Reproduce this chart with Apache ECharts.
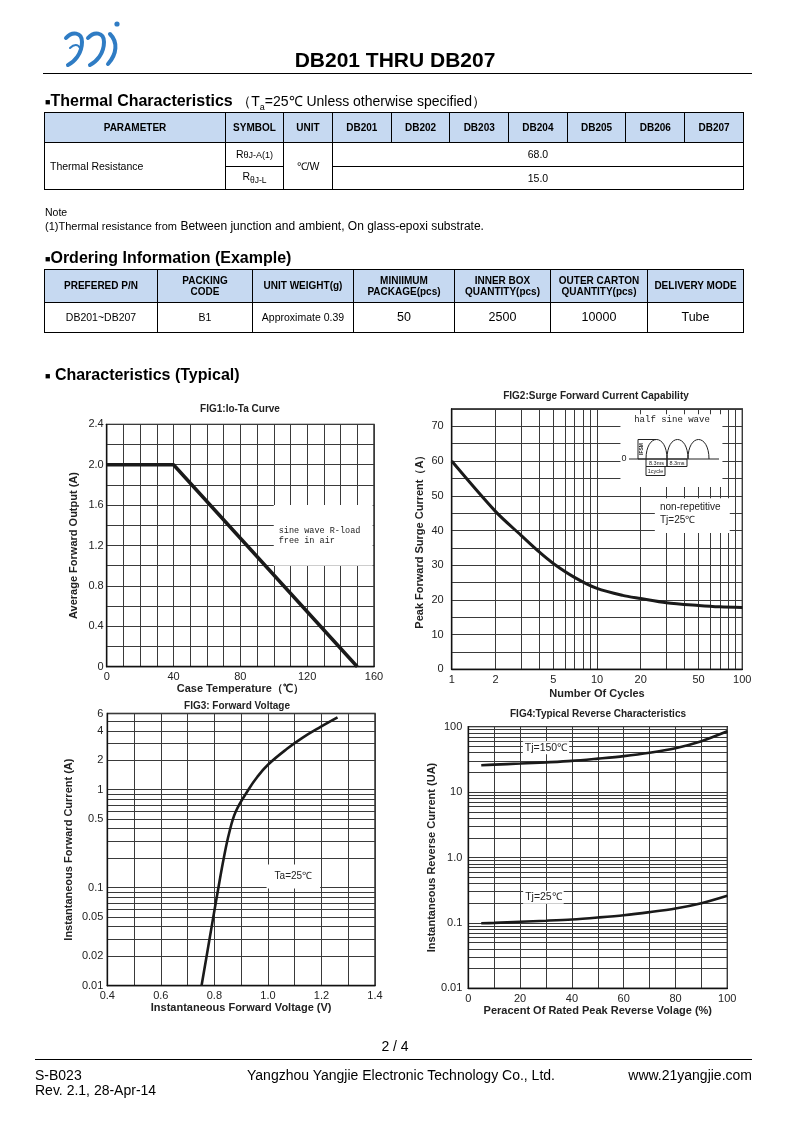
<!DOCTYPE html>
<html><head><meta charset="utf-8">
<script src="https://cdn.jsdelivr.net/npm/echarts@6/dist/echarts.min.js"></script>
<style>
html,body{margin:0;padding:0;background:#fff;}
#page{position:relative;width:794px;height:1122px;overflow:hidden;font-family:"Liberation Sans",Arial,sans-serif;color:#000;}
#chart{position:absolute;left:0;top:0;width:794px;height:1122px;}
.abs{position:absolute;white-space:nowrap;line-height:1;}
.nar{font-family:"Liberation Sans Narrow","Liberation Sans",Arial,sans-serif;}
table{position:absolute;border-collapse:collapse;table-layout:fixed;font-family:"Liberation Sans Narrow","Liberation Sans",Arial,sans-serif;}
td,th{border:1px solid #000;text-align:center;padding:0;font-size:10.5px;line-height:1.15;}
th{background:#c6d9f1;font-weight:bold;font-size:10px;}
.sq{font-size:9px;vertical-align:1px;}
.big{font-family:"Liberation Sans",Arial,sans-serif;font-size:12.5px;}
</style></head>
<body><div id="page">
<div id="chart"></div>

<svg class="abs" style="left:62px;top:18px" width="70" height="52" viewBox="0 0 70 52">
  <g fill="none" stroke="#2f7cc4" stroke-linecap="round">
    <path d="M4,20 C10,13 20,14 20,24 C20,36 12,44 6,47" stroke-width="4"/>
    <path d="M8,30 C12,26 16,26 18,30" stroke-width="2"/>
    <path d="M26,20 C32,13 42,14 42,24 C42,36 34,44 28,47" stroke-width="4"/>
    <path d="M48,16 C56,24 55,36 46,46" stroke-width="4"/>
  </g>
  <circle cx="55" cy="6" r="2.6" fill="#2f7cc4"/>
</svg>
<div class="abs" style="left:0;width:790px;text-align:center;top:49px;font-size:21px;font-weight:bold;">DB201 THRU DB207</div>
<div class="abs" style="left:43px;top:73px;width:709px;height:0;border-top:1.5px solid #000;"></div>

<div class="abs" style="left:45px;top:93px;font-size:16px;font-weight:bold;"><span class="sq">■</span>Thermal Characteristics <span style="font-weight:normal;font-size:14px;">（T<sub style="font-size:9px;">a</sub>=25℃ Unless otherwise specified）</span></div>

<table style="left:44px;top:112px;width:699px;">
<colgroup><col style="width:181px"><col style="width:58px"><col style="width:49px"><col style="width:58.7px"><col style="width:58.7px"><col style="width:58.7px"><col style="width:58.7px"><col style="width:58.7px"><col style="width:58.7px"><col style="width:58.8px"></colgroup>
<tr style="height:30px"><th>PARAMETER</th><th>SYMBOL</th><th>UNIT</th><th>DB201</th><th>DB202</th><th>DB203</th><th>DB204</th><th>DB205</th><th>DB206</th><th>DB207</th></tr>
<tr style="height:24px"><td rowspan="2" style="text-align:left;padding-left:5px;">Thermal Resistance</td><td>R<span style="font-size:9px">θJ-A(1)</span></td><td rowspan="2">℃/W</td><td colspan="7">68.0</td></tr>
<tr style="height:23px"><td>R<sub style="font-size:8.5px">θJ-L</sub></td><td colspan="7">15.0</td></tr>
</table>

<div class="abs nar" style="left:45px;top:207px;font-size:10.5px;">Note</div>
<div class="abs" style="left:45px;top:220px;font-size:12px;"><span class="nar" style="font-size:11px;">(1)Thermal resistance from</span> Between junction and ambient, On glass-epoxi substrate.</div>

<div class="abs" style="left:45px;top:250px;font-size:16px;font-weight:bold;"><span class="sq">■</span>Ordering Information (Example)</div>
<table style="left:44px;top:269px;width:699px;">
<colgroup><col style="width:113px"><col style="width:95px"><col style="width:101px"><col style="width:101px"><col style="width:96px"><col style="width:97px"><col style="width:96px"></colgroup>
<tr style="height:33px"><th>PREFERED P/N</th><th>PACKING<br>CODE</th><th>UNIT WEIGHT(g)</th><th>MINIIMUM<br>PACKAGE(pcs)</th><th>INNER BOX<br>QUANTITY(pcs)</th><th>OUTER CARTON<br>QUANTITY(pcs)</th><th>DELIVERY MODE</th></tr>
<tr style="height:30px"><td>DB201~DB207</td><td>B1</td><td>Approximate 0.39</td><td class="big">50</td><td class="big">2500</td><td class="big">10000</td><td class="big">Tube</td></tr>
</table>

<div class="abs" style="left:45px;top:367px;font-size:16px;font-weight:bold;"><span class="sq">■</span> Characteristics (Typical)</div>

<div class="abs" style="left:0;width:790px;text-align:center;top:1039px;font-size:14px;">2 / 4</div>
<div class="abs" style="left:35px;top:1059px;width:717px;height:0;border-top:1px solid #000;"></div>
<div class="abs" style="left:35px;top:1068px;font-size:14px;">S-B023</div>
<div class="abs" style="left:35px;top:1083px;font-size:14px;">Rev. 2.1, 28-Apr-14</div>
<div class="abs" style="left:201px;width:400px;text-align:center;top:1068px;font-size:14px;">Yangzhou Yangjie Electronic Technology Co., Ltd.</div>
<div class="abs" style="right:42px;top:1068px;font-size:14px;">www.21yangjie.com</div>
</div>

<script>
// FIG1: Io-Ta curve
const fig1Temp = [0, 40, 150];
const fig1Current = [2.0, 2.0, 0];
const fig1XLabels = [0, 40, 80, 120, 160];
const fig1YLabels = [0, 0.4, 0.8, 1.2, 1.6, 2.0, 2.4];

// FIG2: surge forward current
const fig2Cycles = [1, 2, 3, 4, 5, 7, 10, 15, 20, 30, 50, 70, 100];
const fig2Surge = [60, 45.5, 38.6, 33.8, 30.5, 26.5, 23.3, 21.3, 20.4, 19.2, 18.4, 18.0, 17.8];
const fig2XGrid = [1, 2, 3, 4, 5, 6, 7, 8, 9, 10, 20, 30, 40, 50, 60, 70, 80, 90, 100];
const fig2XLabels = [1, 2, 5, 10, 20, 50, 100];
const fig2YLabels = [0, 10, 20, 30, 40, 50, 60, 70];

// FIG3: forward voltage
const fig3Voltage = [0.752, 0.77, 0.79, 0.815, 0.835, 0.855, 0.88, 0.927, 0.96, 1.0, 1.07, 1.13, 1.195, 1.26];
const fig3Current = [0.01, 0.0193, 0.0403, 0.1, 0.2, 0.36, 0.6, 1.0, 1.35, 1.8, 2.6, 3.4, 4.35, 5.47];
const fig3XLabels = [0.4, 0.6, 0.8, 1.0, 1.2, 1.4];
const fig3YGrid = [0.01, 0.02, 0.03, 0.04, 0.05, 0.06, 0.07, 0.08, 0.09, 0.1, 0.2, 0.3, 0.4, 0.5, 0.6, 0.7, 0.8, 0.9, 1, 2, 3, 4, 5, 6];
const fig3YLabels = [0.01, 0.02, 0.05, 0.1, 0.5, 1, 2, 4, 6];

// FIG4: reverse characteristics
const fig4Percent = [5, 10, 20, 30, 40, 50, 60, 70, 80, 90, 100];
const fig4Tj150 = [25.8, 26.3, 27.3, 28.5, 30, 32.5, 35.5, 40, 47, 60, 85];
const fig4Tj25 = [0.099, 0.1, 0.104, 0.108, 0.113, 0.121, 0.131, 0.146, 0.166, 0.2, 0.26];
const fig4XLabels = [0, 20, 40, 60, 80, 100];
const fig4YGrid = [0.01, 0.02, 0.03, 0.04, 0.05, 0.06, 0.07, 0.08, 0.09, 0.1, 0.2, 0.3, 0.4, 0.5, 0.6, 0.7, 0.8, 0.9, 1, 2, 3, 4, 5, 6, 7, 8, 9, 10, 20, 30, 40, 50, 60, 70, 80, 90, 100];
const fig4YLabels = [0.01, 0.1, 1, 10, 100];

const FONT = '"Liberation Sans", Arial, sans-serif';
const MONO = '"Liberation Mono", "DejaVu Sans Mono", monospace';
const split = {show: true, lineStyle: {color: '#3a3a3a', width: 1}};
const aLine = {show: true, lineStyle: {color: '#111', width: 1.3}};
const lbl = (extra) => Object.assign({color: '#222', fontSize: 11, fontFamily: FONT, margin: 5}, extra);
const nm = {color: '#222', fontSize: 11, fontWeight: 'bold', fontFamily: FONT};
const zip = (a, b) => a.map((v, i) => [v, b[i]]);
const curve = {color: '#1a1a1a', width: 3};
const gridBase = {show: true, borderColor: '#111', borderWidth: 1.3, backgroundColor: 'transparent'};
const txt = (x, y, text, font, extra) => Object.assign({type: 'text', x: x, y: y, z: 100,
  style: {text: text, font: font, fill: '#222', textAlign: 'center', textVerticalAlign: 'middle'}}, extra || {});
const seg = (shape, type) => ({type: type || 'line', z: 100, shape: shape, style: {stroke: '#222', lineWidth: 1, fill: null}});

const option = {
  animation: false,
  backgroundColor: '#fff',
  grid: [
    Object.assign({left: 106.7, top: 424.3, width: 267.3, height: 242.4}, gridBase),
    Object.assign({left: 451.7, top: 409, width: 290.6, height: 260.3}, gridBase),
    Object.assign({left: 107.3, top: 713.5, width: 267.7, height: 272.2}, gridBase),
    Object.assign({left: 468.3, top: 726.7, width: 259, height: 261.6}, gridBase)
  ],
  xAxis: [
    {gridIndex: 0, type: 'value', min: 0, max: 160, interval: 10, axisLine: aLine, axisTick: {show: false}, splitLine: split,
     axisLabel: lbl({customValues: fig1XLabels}), name: 'Case Temperature（℃）', nameLocation: 'middle', nameGap: 15, nameTextStyle: nm},
    {gridIndex: 1, type: 'log', logBase: 10, min: 1, max: 100, axisLine: aLine, axisTick: {show: false, customValues: fig2XGrid}, splitLine: split,
     axisLabel: lbl({customValues: fig2XLabels}), name: 'Number Of Cycles', nameLocation: 'middle', nameGap: 19, nameTextStyle: nm},
    {gridIndex: 2, type: 'value', min: 0.4, max: 1.4, interval: 0.1, axisLine: aLine, axisTick: {show: false}, splitLine: split,
     axisLabel: lbl({customValues: fig3XLabels, formatter: v => v.toFixed(1)}), name: 'Instantaneous Forward Voltage (V)', nameLocation: 'middle', nameGap: 16, nameTextStyle: nm},
    {gridIndex: 3, type: 'value', min: 0, max: 100, interval: 10, axisLine: aLine, axisTick: {show: false}, splitLine: split,
     axisLabel: lbl({customValues: fig4XLabels}), name: 'Peracent Of Rated Peak Reverse Volage (%)', nameLocation: 'middle', nameGap: 16, nameTextStyle: nm}
  ],
  yAxis: [
    {gridIndex: 0, type: 'value', min: 0, max: 2.4, interval: 0.2, axisLine: aLine, axisTick: {show: false}, splitLine: split,
     axisLabel: lbl({customValues: fig1YLabels, margin: 3, formatter: v => v === 0 ? '0' : v.toFixed(1)}), name: 'Average Forward Output (A)', nameLocation: 'middle', nameGap: 27, nameTextStyle: nm},
    {gridIndex: 1, type: 'value', min: 0, max: 75, interval: 5, axisLine: aLine, axisTick: {show: false}, splitLine: split,
     axisLabel: lbl({customValues: fig2YLabels, margin: 8}), name: 'Peak Forward Surge Current（A）', nameLocation: 'middle', nameGap: 26, nameTextStyle: nm},
    {gridIndex: 2, type: 'log', logBase: 10, min: 0.01, max: 6, axisLine: aLine, axisTick: {show: false, customValues: fig3YGrid}, splitLine: split,
     axisLabel: lbl({customValues: fig3YLabels, margin: 4}), name: 'Instantaneous Forward Current (A)', nameLocation: 'middle', nameGap: 33, nameTextStyle: nm},
    {gridIndex: 3, type: 'log', logBase: 10, min: 0.01, max: 100, axisLine: aLine, axisTick: {show: false, customValues: fig4YGrid}, splitLine: split,
     axisLabel: lbl({customValues: fig4YLabels, margin: 6, formatter: v => v === 1 ? '1.0' : String(v)}), name: 'Instantaneous Reverse Current (UA)', nameLocation: 'middle', nameGap: 28, nameTextStyle: nm}
  ],
  series: [
    {type: 'line', xAxisIndex: 0, yAxisIndex: 0, data: zip(fig1Temp, fig1Current), symbol: 'none', lineStyle: {color: '#1a1a1a', width: 3.5}, z: 5,
     markArea: {silent: true, itemStyle: {color: '#fff'},
       label: {show: true, position: 'insideLeft', distance: 5, color: '#222', fontSize: 8.5, fontFamily: MONO, lineHeight: 10,
               formatter: 'sine wave R-load\nfree in air'},
       data: [[{xAxis: 100, yAxis: 1.0}, {xAxis: 159.2, yAxis: 1.6}]]}},
    {type: 'line', xAxisIndex: 1, yAxisIndex: 1, data: zip(fig2Cycles, fig2Surge), symbol: 'none', smooth: 0.3, lineStyle: curve, z: 5,
     markArea: {silent: true, itemStyle: {color: '#fff'}, label: {show: false},
       data: [
         [{xAxis: 14.5, yAxis: 52.5}, {xAxis: 73, yAxis: 73.5}],
         [{xAxis: 25, yAxis: 39.3}, {xAxis: 82, yAxis: 49.3}]
       ]}},
    {type: 'line', xAxisIndex: 2, yAxisIndex: 2, data: zip(fig3Voltage, fig3Current), symbol: 'none', smooth: 0.4, lineStyle: {color: '#1a1a1a', width: 2.6}, z: 5,
     markPoint: {silent: true, symbolSize: 0,
       label: {show: true, position: 'inside', color: '#222', fontSize: 10, fontFamily: FONT, backgroundColor: '#fff', padding: [7, 8]},
       data: [{coord: [1.095, 0.13], value: 'Ta=25℃'}]}},
    {type: 'line', xAxisIndex: 3, yAxisIndex: 3, data: zip(fig4Percent, fig4Tj150), symbol: 'none', smooth: 0.3, lineStyle: {color: '#1a1a1a', width: 2.6}, z: 5,
     markPoint: {silent: true, symbolSize: 0,
       label: {show: true, position: 'inside', color: '#222', fontSize: 10.5, fontFamily: FONT, backgroundColor: '#fff', padding: [1, 2]},
       data: [{coord: [30, 47.8], value: 'Tj=150℃'}]}},
    {type: 'line', xAxisIndex: 3, yAxisIndex: 3, data: zip(fig4Percent, fig4Tj25), symbol: 'none', smooth: 0.3, lineStyle: {color: '#1a1a1a', width: 2.6}, z: 5,
     markPoint: {silent: true, symbolSize: 0,
       label: {show: true, position: 'inside', color: '#222', fontSize: 10.5, fontFamily: FONT, backgroundColor: '#fff', padding: [1, 2]},
       data: [{coord: [29, 0.246], value: 'Tj=25℃'}]}}
  ],
  graphic: [
    txt(240, 409.5, 'FIG1:Io-Ta Curve', 'bold 10px ' + FONT),
    txt(596, 396, 'FIG2:Surge Forward Current Capability', 'bold 10px ' + FONT),
    txt(237, 706, 'FIG3: Forward Voltage', 'bold 10px ' + FONT),
    txt(598, 714, 'FIG4:Typical Reverse Characteristics', 'bold 10px ' + FONT),
    // FIG2 note
    txt(660, 507, 'non-repetitive', '10px ' + FONT, {style: {text: 'non-repetitive', font: '10px ' + FONT, fill: '#222', textAlign: 'left', textVerticalAlign: 'middle'}}),
    txt(660, 520, 'Tj=25℃', '10px ' + FONT, {style: {text: 'Tj=25℃', font: '10px ' + FONT, fill: '#222', textAlign: 'left', textVerticalAlign: 'middle'}}),
    // half sine wave inset
    txt(672, 420, 'half sine wave', '9px ' + MONO),
    txt(624, 459, '0', '9px ' + FONT),
    seg({x1: 629, y1: 459, x2: 719, y2: 459}),
    seg({x1: 646, y1: 459, x2: 667, y2: 459, cpx1: 646, cpy1: 433, cpx2: 667, cpy2: 433}, 'bezierCurve'),
    seg({x1: 667, y1: 459, x2: 688, y2: 459, cpx1: 667, cpy1: 433, cpx2: 688, cpy2: 433}, 'bezierCurve'),
    seg({x1: 688, y1: 459, x2: 709, y2: 459, cpx1: 688, cpy1: 433, cpx2: 709, cpy2: 433}, 'bezierCurve'),
    seg({points: [[646, 459], [638, 459], [638, 439.5], [656.5, 439.5]]}, 'polyline'),
    txt(642, 449, 'IFSM', 'bold 5px ' + FONT, {rotation: Math.PI / 2}),
    seg({x: 646, y: 459, width: 21, height: 7.5}, 'rect'),
    seg({x: 667, y: 459, width: 20, height: 7.5}, 'rect'),
    seg({x: 646, y: 466.5, width: 19, height: 9}, 'rect'),
    txt(656.5, 463, '8.3ms', '5.5px ' + FONT),
    txt(677, 463, '8.3ms', '5.5px ' + FONT),
    txt(655.5, 471, '1cycle', '5.5px ' + FONT)
  ]
};

const chart = echarts.init(document.getElementById('chart'), null, {renderer: 'canvas'});
chart.setOption(option);
</script>
</body></html>
